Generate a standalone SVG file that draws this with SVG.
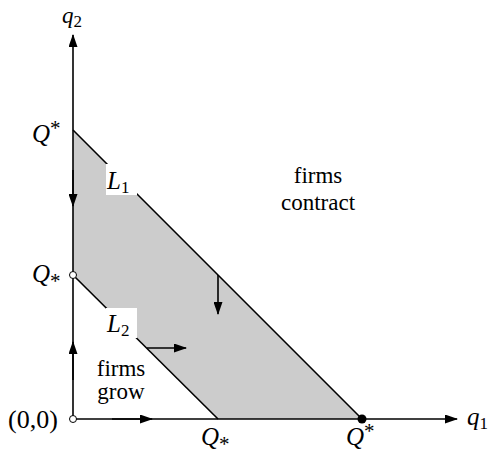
<svg xmlns="http://www.w3.org/2000/svg" width="489" height="456" viewBox="0 0 489 456">
<style>
.ln{stroke:#000;stroke-width:1.6;fill:none}
.m{font-family:"Liberation Serif",serif;font-style:italic;font-size:25px;fill:#000}
.sub{font-family:"Liberation Serif",serif;font-style:normal;font-size:17px}
.st{font-family:"Liberation Serif",serif;font-style:normal;font-size:21px}
.t{font-family:"Liberation Serif",serif;font-size:23px;fill:#000;text-anchor:middle}
.r{font-family:"Liberation Serif",serif;font-size:26px;fill:#000}
</style>
<defs>
<marker id="ah" viewBox="0 0 13 9" refX="12" refY="4.5" markerWidth="13" markerHeight="9" markerUnits="userSpaceOnUse" orient="auto">
<path d="M0,0 L13,4.5 L0,9 Z" fill="#000"/>
</marker>
</defs>
<g id="region">
<polygon points="73,130 362,419 218,419 73,275" fill="#cccccc"/>
</g>
<g id="connectors">
<line class="ln" x1="73" y1="419" x2="73" y2="35" marker-end="url(#ah)"/>
<line class="ln" x1="73" y1="419" x2="457" y2="419" marker-end="url(#ah)"/>
<line class="ln" x1="73" y1="130" x2="362" y2="419"/>
<line class="ln" x1="73" y1="275" x2="218" y2="419"/>
<line class="ln" x1="73" y1="170" x2="73" y2="206" marker-end="url(#ah)"/>
<line class="ln" x1="73" y1="380" x2="73" y2="342" marker-end="url(#ah)"/>
<line class="ln" x1="112" y1="419" x2="152" y2="419" marker-end="url(#ah)"/>
<line class="ln" x1="218" y1="275" x2="218" y2="314" marker-end="url(#ah)"/>
<line class="ln" x1="147" y1="348" x2="186" y2="348" marker-end="url(#ah)"/>
</g>
<g id="points">
<circle cx="73" cy="275" r="3.5" fill="#fff" stroke="#000" stroke-width="1"/>
<circle cx="73" cy="419" r="3.5" fill="#fff" stroke="#000" stroke-width="1"/>
<circle cx="362" cy="419" r="4.5" fill="#000"/>
</g>
<g id="L1">
<rect x="106" y="164" width="31" height="31" fill="#fff"/>
<text class="m" x="107" y="189">L<tspan class="sub" dy="4">1</tspan></text>
</g>
<g id="L2">
<rect x="106" y="308" width="31" height="30" fill="#fff"/>
<text class="m" x="107" y="332">L<tspan class="sub" dy="4">2</tspan></text>
</g>
<g id="labels">
<text class="m" x="62" y="23" style="font-size:23px">q<tspan class="sub" dy="4">2</tspan></text>
<text class="m" x="467" y="425">q<tspan class="sub" dy="4">1</tspan></text>
<text class="m" x="32" y="142">Q<tspan class="st" dy="-7">*</tspan></text>
<text class="m" x="32" y="282">Q<tspan class="st" dy="6">*</tspan></text>
<text class="r" x="8" y="428">(0,0)</text>
<text class="m" x="201" y="445">Q<tspan class="st" dy="6">*</tspan></text>
<text class="m" x="346" y="445">Q<tspan class="st" dy="-7">*</tspan></text>
<text class="t" x="318" y="183">firms</text>
<text class="t" x="318" y="210">contract</text>
<text class="t" x="121" y="376">firms</text>
<text class="t" x="121" y="399">grow</text>
</g>
</svg>
